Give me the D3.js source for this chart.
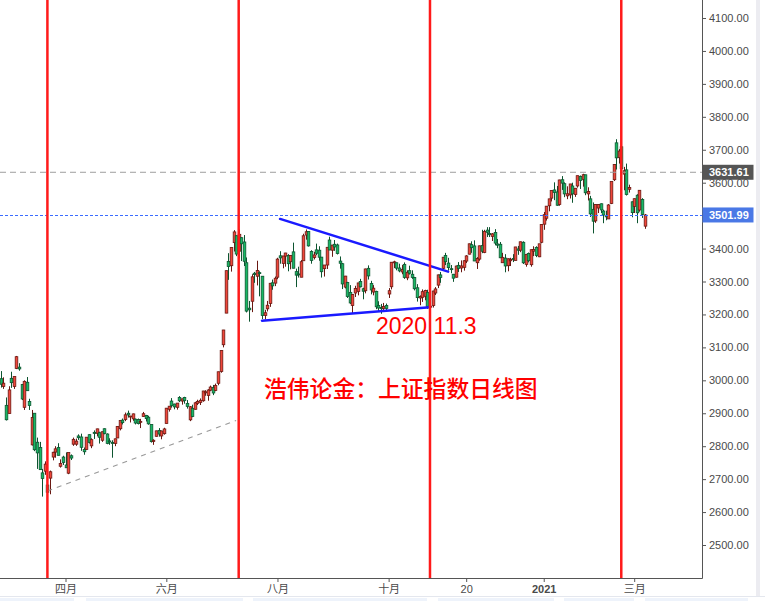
<!DOCTYPE html>
<html><head><meta charset="utf-8">
<script src="https://cdn.jsdelivr.net/npm/d3@7"></script>
<style>
html,body{margin:0;padding:0;background:#fff;}
svg{display:block;}
</style>
</head><body>
<svg id="chart" width="765" height="601"></svg>
<script>
// ---------- DATA (上证指数 daily, 2020-02-26 .. 2021-03-05) ----------
const dates = [
"2020-02-26","2020-02-27","2020-02-28","2020-03-02","2020-03-03","2020-03-04","2020-03-05","2020-03-06","2020-03-09","2020-03-10",
"2020-03-11","2020-03-12","2020-03-13","2020-03-16","2020-03-17","2020-03-18","2020-03-19","2020-03-20","2020-03-23","2020-03-24",
"2020-03-25","2020-03-26","2020-03-27","2020-03-30","2020-03-31","2020-04-01","2020-04-02","2020-04-03","2020-04-07","2020-04-08",
"2020-04-09","2020-04-10","2020-04-13","2020-04-14","2020-04-15","2020-04-16","2020-04-17","2020-04-20","2020-04-21","2020-04-22",
"2020-04-23","2020-04-24","2020-04-27","2020-04-28","2020-04-29","2020-04-30","2020-05-06","2020-05-07","2020-05-08","2020-05-11",
"2020-05-12","2020-05-13","2020-05-14","2020-05-15","2020-05-18","2020-05-19","2020-05-20","2020-05-21","2020-05-22","2020-05-25",
"2020-05-26","2020-05-27","2020-05-28","2020-05-29","2020-06-01","2020-06-02","2020-06-03","2020-06-04","2020-06-05","2020-06-08",
"2020-06-09","2020-06-10","2020-06-11","2020-06-12","2020-06-15","2020-06-16","2020-06-17","2020-06-18","2020-06-19","2020-06-22",
"2020-06-23","2020-06-24","2020-06-29","2020-06-30","2020-07-01","2020-07-02","2020-07-03","2020-07-06","2020-07-07","2020-07-08",
"2020-07-09","2020-07-10","2020-07-13","2020-07-14","2020-07-15","2020-07-16","2020-07-17","2020-07-20","2020-07-21","2020-07-22",
"2020-07-23","2020-07-24","2020-07-27","2020-07-28","2020-07-29","2020-07-30","2020-07-31","2020-08-03","2020-08-04","2020-08-05",
"2020-08-06","2020-08-07","2020-08-10","2020-08-11","2020-08-12","2020-08-13","2020-08-14","2020-08-17","2020-08-18","2020-08-19",
"2020-08-20","2020-08-21","2020-08-24","2020-08-25","2020-08-26","2020-08-27","2020-08-28","2020-08-31","2020-09-01","2020-09-02",
"2020-09-03","2020-09-04","2020-09-07","2020-09-08","2020-09-09","2020-09-10","2020-09-11","2020-09-14","2020-09-15","2020-09-16",
"2020-09-17","2020-09-18","2020-09-21","2020-09-22","2020-09-23","2020-09-24","2020-09-25","2020-09-28","2020-09-29","2020-09-30",
"2020-10-09","2020-10-12","2020-10-13","2020-10-14","2020-10-15","2020-10-16","2020-10-19","2020-10-20","2020-10-21","2020-10-22",
"2020-10-23","2020-10-26","2020-10-27","2020-10-28","2020-10-29","2020-10-30","2020-11-02","2020-11-03","2020-11-04","2020-11-05",
"2020-11-06","2020-11-09","2020-11-10","2020-11-11","2020-11-12","2020-11-13","2020-11-16","2020-11-17","2020-11-18","2020-11-19",
"2020-11-20","2020-11-23","2020-11-24","2020-11-25","2020-11-26","2020-11-27","2020-11-30","2020-12-01","2020-12-02","2020-12-03",
"2020-12-04","2020-12-07","2020-12-08","2020-12-09","2020-12-10","2020-12-11","2020-12-14","2020-12-15","2020-12-16","2020-12-17",
"2020-12-18","2020-12-21","2020-12-22","2020-12-23","2020-12-24","2020-12-25","2020-12-28","2020-12-29","2020-12-30","2020-12-31",
"2021-01-04","2021-01-05","2021-01-06","2021-01-07","2021-01-08","2021-01-11","2021-01-12","2021-01-13","2021-01-14","2021-01-15",
"2021-01-18","2021-01-19","2021-01-20","2021-01-21","2021-01-22","2021-01-25","2021-01-26","2021-01-27","2021-01-28","2021-01-29",
"2021-02-01","2021-02-02","2021-02-03","2021-02-04","2021-02-05","2021-02-08","2021-02-09","2021-02-10","2021-02-18","2021-02-19",
"2021-02-22","2021-02-23","2021-02-24","2021-02-25","2021-02-26","2021-03-01","2021-03-02","2021-03-03","2021-03-04","2021-03-05"];

const open = [
3005,2981,2924,2899,3006,2981,3036,3040,2987,2918, 2994,2936,2804,2900,2812,2796,2719,2724,2682,2703,
2767,2782,2796,2739,2767,2743,2718,2771,2806,2806, 2831,2828,2790,2790,2835,2801,2842,2839,2841,2818,
2853,2837,2816,2811,2808,2825,2853,2879,2881,2900, 2889,2883,2882,2881,2874,2890,2893,2888,2866,2814,
2830,2848,2831,2838,2869,2912,2937,2928,2918,2948, 2937,2948,2930,2880,2915,2912,2930,2933,2938,2962,
2954,2970,2978,2969,2991,3027,3108,3204,3361,3348, 3418,3439,3392,3433,3420,3357,3219,3240,3325,3316,
3327,3316,3197,3217,3233,3296,3295,3313,3378,3355, 3377,3379,3360,3390,3330,3323,3313,3363,3441,3452,
3391,3373,3396,3395,3374,3339,3350,3426,3395,3413, 3411,3362,3354,3283,3297,3267,3227,3265,3270,3300,
3278,3272,3340,3294,3268,3270,3227,3221,3218,3227, 3262,3284,3357,3357,3341,3329,3352,3311,3333,3322,
3312,3281,3250,3252,3255,3267,3222,3227,3265,3289, 3320,3340,3379,3356,3339,3322,3313,3349,3341,3343,
3362,3383,3412,3408,3357,3368,3409,3388,3456,3446, 3437,3449,3414,3413,3357,3371,3348,3363,3370,3364,
3399,3395,3419,3352,3385,3351,3392,3403,3375,3419, 3474,3492,3530,3553,3578,3572,3534,3609,3597,3560,
3563,3590,3564,3590,3619,3610,3624,3566,3551,3519, 3484,3523,3536,3514,3500,3490,3537,3609,3721,3676,
3709,3626,3639,3580,3542,3528,3562,3517,3549,3468];

const high = [
3028,3009,2948,2982,3026,3012,3074,3052,2989,3000, 3010,2944,2910,2900,2826,2813,2731,2754,2686,2726,
2783,2800,2809,2760,2771,2781,2780,2775,2826,2823, 2836,2838,2796,2827,2836,2824,2848,2853,2844,2844,
2854,2839,2824,2818,2823,2861,2878,2884,2902,2908, 2892,2899,2884,2884,2883,2904,2895,2892,2866,2821,
2847,2855,2847,2856,2916,2922,2946,2929,2931,2952, 2944,2950,2940,2922,2926,2934,2941,2945,2968,2970,
2973,2984,2986,2990,3026,3091,3153,3333,3386,3404, 3456,3440,3458,3434,3441,3373,3241,3322,3329,3363,
3331,3316,3214,3241,3295,3306,3315,3372,3392,3377, 3387,3383,3380,3418,3339,3345,3365,3445,3458,3453,
3395,3390,3415,3407,3374,3350,3404,3436,3411,3426, 3415,3376,3356,3317,3299,3289,3262,3287,3296,3308,
3281,3339,3349,3302,3289,3272,3240,3232,3235,3233, 3280,3359,3363,3357,3354,3350,3358,3334,3348,3334,
3314,3292,3258,3276,3275,3275,3246,3272,3283,3321, 3329,3374,3387,3372,3350,3323,3348,3359,3364,3364,
3380,3415,3422,3425,3374,3409,3457,3457,3465,3465, 3447,3459,3429,3420,3387,3383,3370,3372,3383,3405,
3408,3421,3422,3383,3388,3397,3407,3407,3414,3474, 3511,3529,3551,3577,3601,3590,3609,3620,3601,3589,
3596,3600,3584,3621,3622,3627,3624,3586,3560,3540, 3535,3535,3537,3518,3515,3535,3603,3656,3732,3702,
3714,3648,3658,3594,3543,3552,3565,3577,3553,3505];

const low = [
2978,2974,2878,2899,2977,2974,3034,3029,2940,2910, 2968,2910,2802,2785,2731,2728,2647,2713,2649,2654,
2757,2765,2772,2735,2743,2734,2715,2758,2801,2801, 2819,2786,2774,2789,2808,2794,2822,2830,2808,2813,
2836,2806,2804,2765,2800,2825,2848,2866,2876,2887, 2872,2877,2866,2866,2855,2889,2875,2865,2811,2804,
2829,2829,2821,2835,2869,2905,2917,2912,2911,2934, 2926,2929,2914,2876,2888,2911,2925,2925,2935,2953,
2938,2967,2955,2967,2985,3023,3100,3204,3305,3330, 3391,3377,3370,3362,3347,3206,3178,3207,3296,3288,
3255,3186,3185,3209,3223,3275,3286,3307,3354,3340, 3345,3331,3337,3340,3283,3312,3313,3363,3427,3406,
3354,3367,3380,3363,3312,3315,3338,3395,3375,3393, 3382,3339,3277,3279,3250,3232,3203,3253,3258,3282,
3246,3264,3306,3261,3258,3216,3208,3202,3213,3210, 3250,3276,3341,3334,3328,3322,3308,3304,3321,3308,
3273,3239,3228,3238,3243,3217,3210,3221,3259,3280, 3296,3336,3350,3333,3325,3299,3312,3329,3328,3333,
3356,3382,3387,3362,3338,3363,3386,3386,3435,3435, 3423,3410,3401,3371,3357,3328,3331,3347,3359,3364,
3381,3389,3353,3345,3358,3345,3377,3374,3374,3416, 3457,3485,3513,3543,3547,3530,3530,3578,3556,3550,
3552,3539,3557,3585,3581,3588,3562,3546,3496,3446, 3478,3508,3508,3477,3486,3490,3535,3605,3640,3658,
3637,3577,3561,3570,3495,3508,3477,3512,3493,3460];

const close = [
2987.9,2991.3,2880.3,2970.9,2992.9,3011.7,3071.7,3034.5,2943.3,2996.8, 2968.5,2923.5,2887.4,2789.3,2779.6,2728.8,2702.1,2745.6,2660.2,2722.4,
2781.6,2792.0,2772.2,2747.2,2750.3,2734.5,2780.6,2764.0,2820.8,2815.4, 2825.9,2796.6,2783.1,2827.3,2811.2,2819.9,2838.5,2852.6,2827.0,2844.0,
2838.5,2808.5,2815.5,2810.0,2822.4,2860.1,2878.1,2871.5,2895.3,2894.8, 2891.6,2898.1,2870.3,2868.5,2875.4,2898.6,2883.7,2867.9,2813.8,2818.0,
2846.6,2836.8,2846.2,2852.4,2915.4,2921.4,2923.4,2919.3,2930.8,2937.8, 2943.8,2938.3,2920.9,2919.7,2890.0,2931.8,2935.9,2939.3,2967.6,2965.3,
2970.6,2979.6,2961.5,2984.7,3026.0,3090.6,3152.8,3332.9,3345.3,3403.4, 3450.6,3383.3,3443.3,3414.6,3361.3,3210.1,3214.1,3314.2,3320.9,3333.2,
3325.1,3196.8,3205.2,3228.0,3294.6,3286.8,3310.0,3368.0,3371.7,3377.6, 3386.5,3354.0,3379.3,3340.3,3319.3,3320.7,3360.1,3438.8,3451.1,3408.1,
3363.9,3380.7,3385.6,3373.6,3329.7,3350.1,3403.8,3395.7,3410.6,3404.8, 3385.0,3355.4,3292.6,3316.4,3254.6,3234.8,3260.4,3278.8,3295.7,3283.9,
3270.4,3338.1,3316.9,3274.3,3279.7,3223.2,3219.4,3217.5,3224.4,3218.1, 3272.1,3358.5,3359.8,3340.5,3332.2,3336.4,3312.5,3328.1,3325.0,3312.5,
3278.0,3251.1,3254.3,3269.2,3272.7,3224.5,3225.1,3271.1,3277.4,3320.1, 3312.2,3373.7,3360.2,3342.2,3338.7,3310.1,3347.0,3339.9,3347.3,3363.1,
3377.7,3414.5,3402.8,3362.3,3369.7,3408.3,3391.8,3451.9,3449.4,3442.1, 3444.6,3416.6,3410.2,3372.0,3373.3,3347.2,3369.1,3367.2,3367.0,3404.9,
3394.9,3420.6,3356.8,3382.3,3363.1,3396.6,3397.3,3379.0,3414.5,3473.1, 3503.0,3528.7,3550.9,3576.2,3570.1,3531.5,3608.3,3598.6,3565.9,3566.4,
3596.2,3566.1,3583.1,3621.3,3606.8,3624.2,3569.4,3573.3,3505.2,3483.1, 3533.7,3533.8,3517.3,3501.9,3496.3,3532.4,3603.5,3655.1,3675.4,3696.2,
3642.4,3636.4,3564.1,3585.1,3509.1,3551.4,3508.6,3576.9,3503.5,3501.99];

const tickDates  = ["2020-04-01","2020-06-01","2020-08-03","2020-10-09","2020-11-20","2021-01-04","2021-03-01"];
const tickLabels = ["四月","六月","八月","十月","20","2021","三月"];
const priceTicks = [2500,2600,2700,2800,2900,3000,3100,3200,3300,3400,3500,3600,3700,3800,3900,4000,4100];

const cycleDates = ["2020-03-23","2020-07-13","2020-11-02","2021-02-22"];
const hLineValue = 3631.61;
const supportLine  = [["2020-03-23",2664],["2020-07-10",2878]];
const upperTriLine = [["2020-08-04",3490],["2020-11-11",3330]];
const lowerTriLine = [["2020-07-24",3181],["2020-11-02",3222]];
const noteDate = "2020 11.3";
const titleText = "浩伟论金：上证指数日线图";

// ---------- LAYOUT ----------
const W = 765, H = 601;
const plotR = 702, plotB = 578;
const svg = d3.select("#chart");

const idxApr1 = dates.indexOf("2020-04-01");
const step = 2.585;
const x = d3.scaleLinear().domain([idxApr1, dates.length - 1])
  .range([65.5, 65.5 + (dates.length - 1 - idxApr1) * step]);
const y = d3.scaleLinear().domain([2500, 4100]).range([545, 18]);
const xd = d => x(dates.indexOf(d));

svg.append("rect").attr("width", W).attr("height", H).attr("fill", "#fff");

svg.append("defs").append("clipPath").attr("id", "plot")
  .append("rect").attr("x", 0).attr("y", 0).attr("width", plotR).attr("height", plotB);

const plot = svg.append("g").attr("clip-path", "url(#plot)");

// candles
const bars = dates.map((d, i) => ({i, o: open[i], h: high[i], l: low[i], c: close[i]}));
const UP = {fill: "#f0463a", edge: "#6a1812"};
const DN = {fill: "#17b864", edge: "#0d5530"};
const cg = plot.append("g");
bars.forEach(b => {
  const col = b.c >= b.o ? UP : DN;
  const cx = Math.round(x(b.i)) + 0.5;
  cg.append("line").attr("x1", cx).attr("x2", cx)
    .attr("y1", y(b.h)).attr("y2", y(b.l))
    .attr("stroke", col.edge).attr("stroke-width", 1);
  const top = y(Math.max(b.o, b.c)), bot = y(Math.min(b.o, b.c));
  const hgt = Math.max(1, bot - top);
  cg.append("rect").attr("x", cx - 1.3).attr("width", 2.6)
    .attr("y", top).attr("height", hgt)
    .attr("fill", col.fill).attr("stroke", col.edge).attr("stroke-width", 0.8);
});

// support dashed line
plot.append("line")
  .attr("x1", xd(supportLine[0][0])).attr("y1", y(supportLine[0][1]))
  .attr("x2", xd(supportLine[1][0])).attr("y2", y(supportLine[1][1]))
  .attr("stroke", "#9a9a9a").attr("stroke-width", 1.2).attr("stroke-dasharray", "5,5");

// horizontal lines
plot.append("line").attr("x1", 0).attr("x2", plotR)
  .attr("y1", y(hLineValue)).attr("y2", y(hLineValue))
  .attr("stroke", "#9e9e9e").attr("stroke-width", 1).attr("stroke-dasharray", "6,4");
const lastClose = close[close.length - 1];
plot.append("line").attr("x1", 0).attr("x2", plotR)
  .attr("y1", Math.round(y(lastClose)) + 0.5).attr("y2", Math.round(y(lastClose)) + 0.5)
  .attr("stroke", "#3b6cff").attr("stroke-width", 1.2).attr("stroke-dasharray", "3,2");

// triangle lines
[upperTriLine, lowerTriLine].forEach(seg => {
  plot.append("line")
    .attr("x1", xd(seg[0][0])).attr("y1", y(seg[0][1]))
    .attr("x2", xd(seg[1][0])).attr("y2", y(seg[1][1]))
    .attr("stroke", "#1a1aff").attr("stroke-width", 2.5).attr("stroke-linecap", "round");
});

// cycle red lines
cycleDates.forEach(d => {
  plot.append("line").attr("x1", xd(d)).attr("x2", xd(d))
    .attr("y1", 0).attr("y2", plotB)
    .attr("stroke", "#ff1a1a").attr("stroke-width", 2.5);
});

// annotation texts
svg.append("text").attr("x", 376).attr("y", 334)
  .attr("font-family", "'Liberation Sans', Arial, sans-serif").attr("font-size", 23)
  .attr("fill", "#ff0000").text(noteDate);
svg.append("text").attr("x", 264).attr("y", 397)
  .attr("font-family", "'Noto Sans CJK SC', sans-serif").attr("font-size", 22.8)
  .attr("font-weight", 500)
  .attr("fill", "#ff0000").text(titleText);

// right price axis
const yAxis = d3.axisRight(y).tickValues(priceTicks).tickFormat(d3.format(".2f"))
  .tickSize(4).tickPadding(3);
const ya = svg.append("g").attr("transform", `translate(${plotR},0)`).call(yAxis);
ya.select(".domain").remove();
ya.selectAll("line").attr("stroke", "#555");
ya.selectAll("text").attr("font-family", "'Liberation Sans', Arial, sans-serif")
  .attr("font-size", 11).attr("fill", "#4a4a4a");
svg.append("line").attr("x1", plotR + 0.5).attr("x2", plotR + 0.5)
  .attr("y1", 0).attr("y2", plotB + 0.5).attr("stroke", "#555").attr("stroke-width", 1);

// bottom time axis
const tickIdx = tickDates.map(d => dates.indexOf(d));
const xAxis = d3.axisBottom(x).tickValues(tickIdx)
  .tickFormat((d, i) => tickLabels[i]).tickSize(4).tickPadding(3);
const xa = svg.append("g").attr("transform", `translate(0,${plotB})`).call(xAxis);
xa.select(".domain").remove();
xa.selectAll("line").attr("stroke", "#555");
xa.selectAll("text").attr("font-family", "'Liberation Sans', 'Noto Sans CJK SC', sans-serif")
  .attr("font-size", 11).attr("fill", "#4a4a4a")
  .attr("font-weight", (d, i) => tickLabels[i] === "2021" ? "bold" : "normal");
svg.append("line").attr("x1", 0).attr("x2", plotR + 0.5)
  .attr("y1", plotB + 0.5).attr("y2", plotB + 0.5).attr("stroke", "#555");

// price labels
function priceTag(v, bg) {
  const cy = y(v);
  svg.append("rect").attr("x", plotR + 0.5).attr("y", cy - 7.5).attr("width", 51).attr("height", 15)
    .attr("fill", bg);
  svg.append("text").attr("x", 709).attr("y", cy).attr("dy", "0.35em")
    .attr("font-family", "'Liberation Sans', Arial, sans-serif").attr("font-size", 11)
    .attr("font-weight", "bold").attr("fill", "#fff").text(d3.format(".2f")(v));
}
priceTag(hLineValue, "#555555");
priceTag(lastClose, "#4a78e6");

// right scrollbar strip and bottom toolbar
svg.append("rect").attr("x", 756).attr("y", 0).attr("width", 4).attr("height", 596).attr("fill", "#ececf1");
svg.append("line").attr("x1", 0).attr("x2", W).attr("y1", 596.5).attr("y2", 596.5).attr("stroke", "#e4e7ee");
[[0,74],[86,243],[253,427],[438,554],[564,634],[645,748]].forEach(r => {
  svg.append("rect").attr("x", r[0]).attr("y", 598).attr("width", r[1]-r[0]).attr("height", 3).attr("fill", "#eef3fb");
});
</script>
</body></html>
